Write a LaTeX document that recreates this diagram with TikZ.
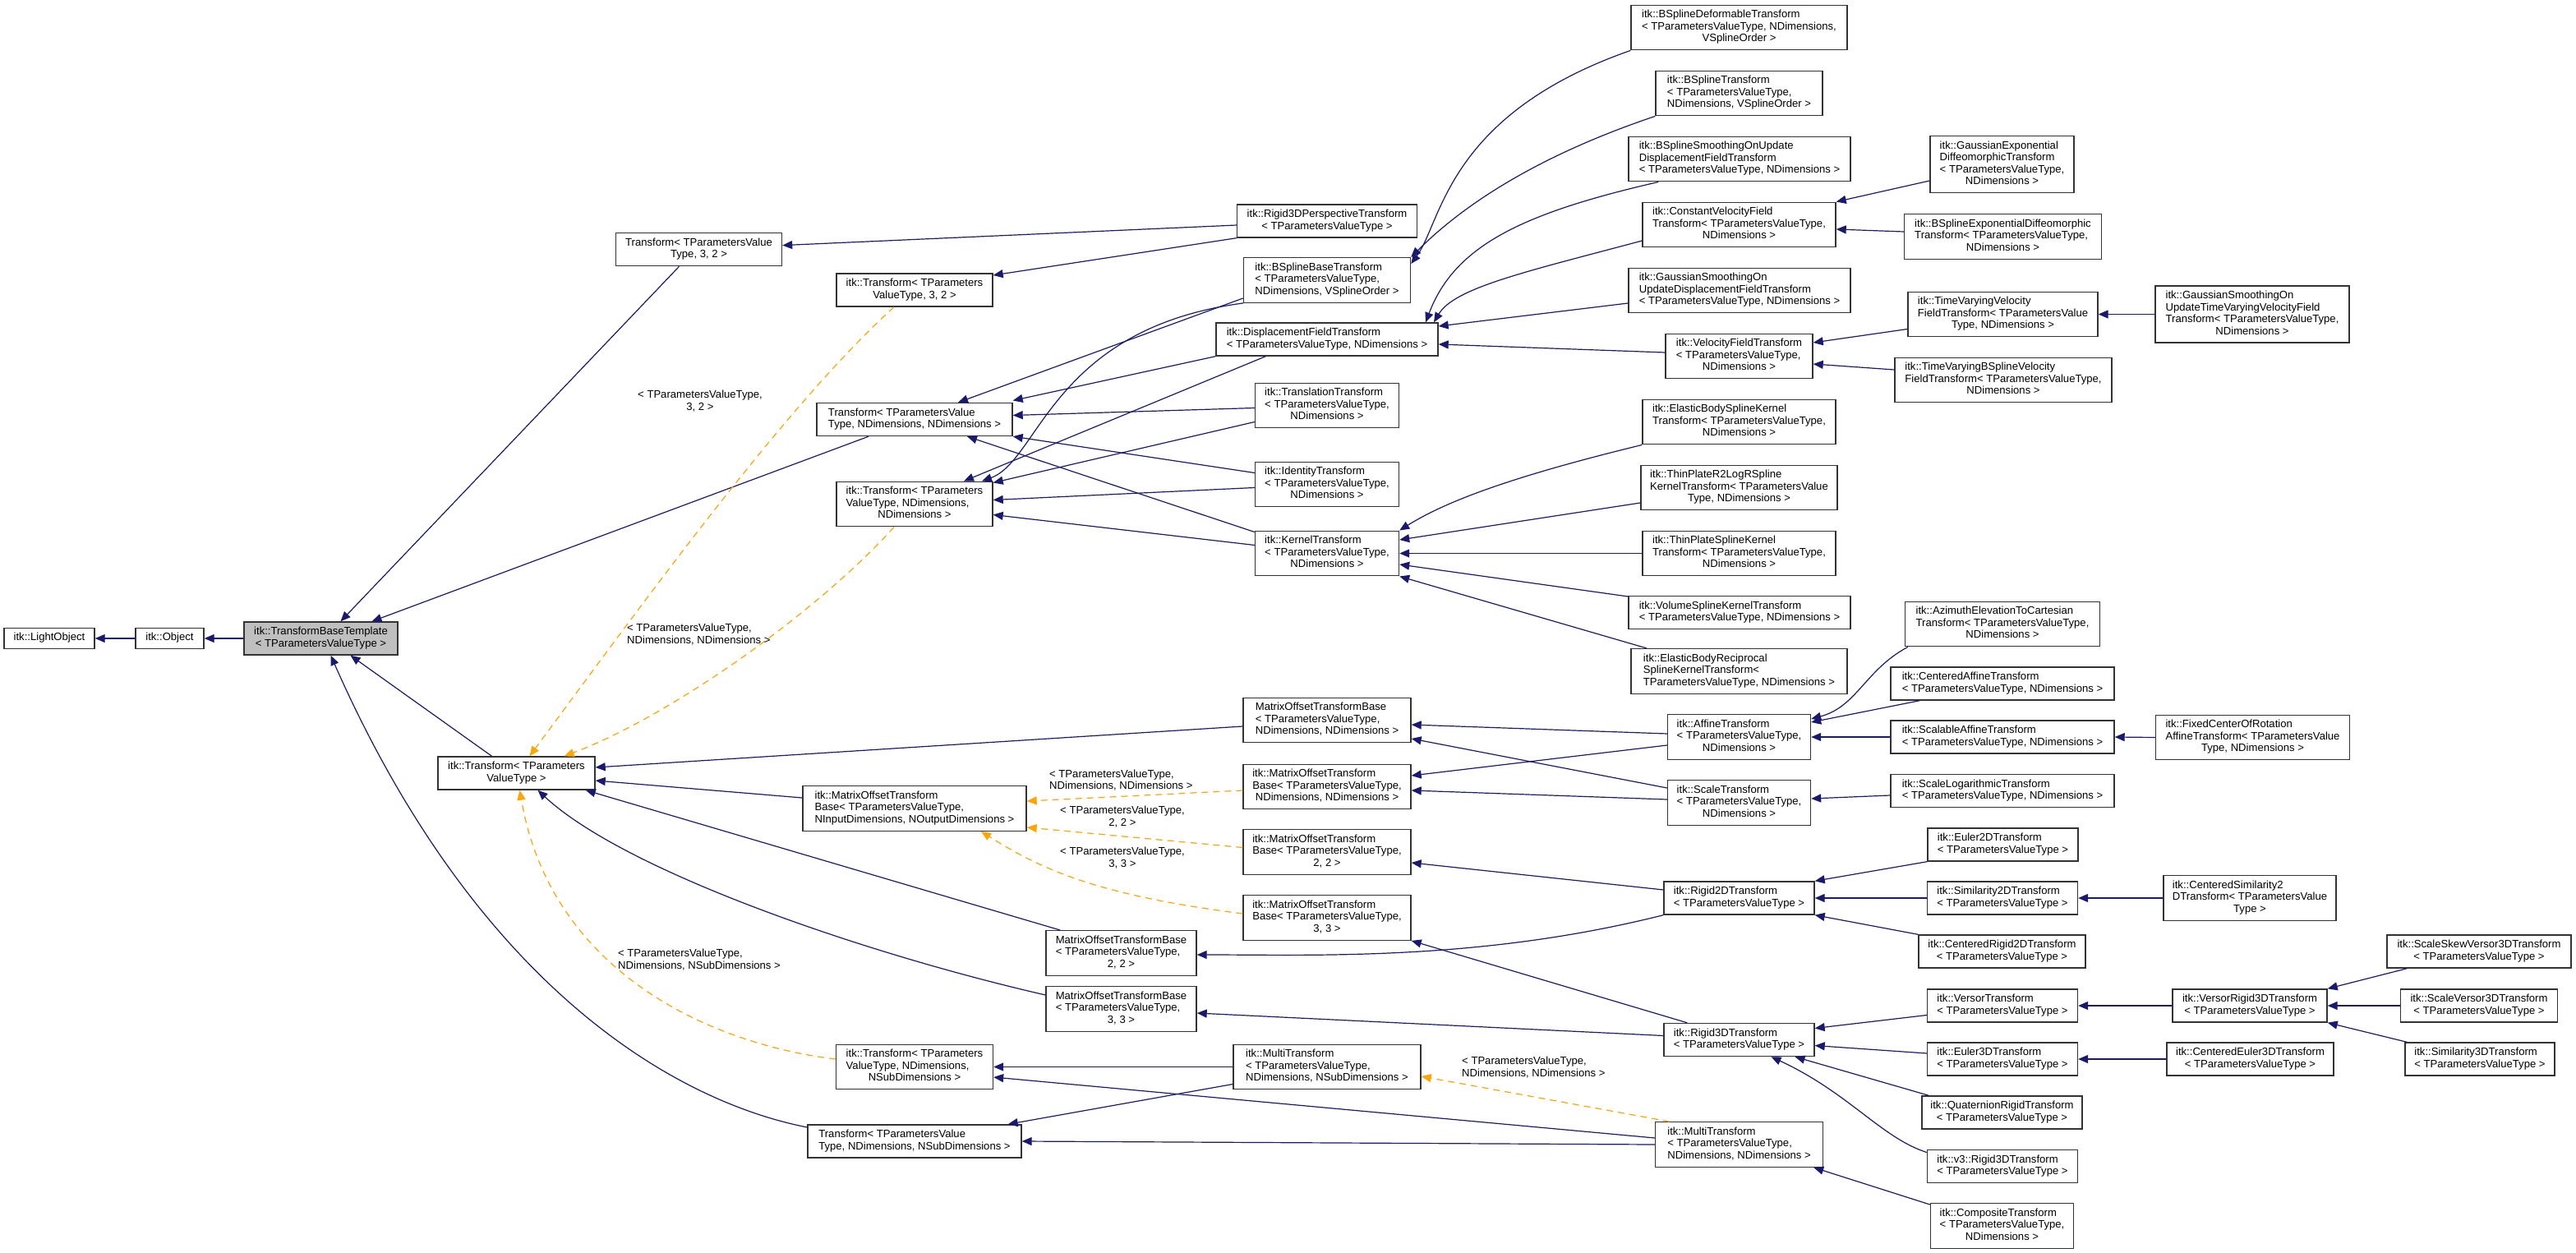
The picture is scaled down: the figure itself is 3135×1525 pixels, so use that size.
\documentclass[tikz,border=0pt]{standalone}
\usepackage{fontspec}
\setmainfont{Liberation Sans}
\usetikzlibrary{arrows.meta,calc}
\definecolor{navyedge}{HTML}{191970}
\definecolor{orangeedge}{HTML}{FFA500}
\newcommand{\clsfont}{\fontsize{13.1pt}{14.5pt}\selectfont}
\newcommand{\clsline}[1]{\begin{tabular}{@{}c@{}}#1\end{tabular}}
\newcommand{\clsbox}[2]{\begin{tabular}{@{}l@{}}#1\\\multicolumn{1}{@{}c@{}}{#2}\end{tabular}}
\begin{document}
\begin{tikzpicture}[x=1pt,y=-1pt,
  cls/.style={draw=black!80,fill=white,line width=1.4pt,inner xsep=0pt,inner ysep=5.5pt,font=\clsfont},
  base/.style={cls,fill=black!25},
  inh/.style={draw=navyedge,line width=1.2pt,-{Triangle[length=12pt,width=10pt]}},
  tmpl/.style={draw=orangeedge,line width=1.2pt,dash pattern=on 8pt off 6pt,-{Triangle[length=12pt,width=10pt]}},
  lbl/.style={font=\clsfont,inner sep=0pt}]
  \path[use as bounding box,fill=white] (0,0) rectangle (3135,1525);

  \node[cls,minimum width=110pt] (lobj) at (60,777) {\clsline{itk::LightObject}};
  \node[cls,minimum width=83pt] (obj) at (206.5,777) {\clsline{itk::Object}};
  \node[base,minimum width=187pt] (tbt) at (390.5,777) {\clsbox{itk::TransformBaseTemplate}{< TParametersValueType >}};
  \node[cls,minimum width=191pt] (tpvt) at (628.5,941) {\clsbox{itk::Transform< TParameters}{ValueType >}};

  \node[cls,minimum width=202pt] (t32) at (850.5,303.6) {\clsbox{Transform< TParametersValue}{Type, 3, 2 >}};
  \node[cls,minimum width=190pt] (it32) at (1113,353) {\clsbox{itk::Transform< TParameters}{ValueType, 3, 2 >}};
  \node[cls,minimum width=238pt] (tnn) at (1113,510.5) {\clsbox{Transform< TParametersValue}{Type, NDimensions, NDimensions >}};
  \node[cls,minimum width=190pt] (itnn) at (1113,613.5) {\clsbox{itk::Transform< TParameters\\ValueType, NDimensions,}{NDimensions >}};
  \node[cls,minimum width=272pt] (imotbin) at (1113,984) {\clsbox{itk::MatrixOffsetTransform\\Base< TParametersValueType,}{NInputDimensions, NOutputDimensions >}};
  \node[cls,minimum width=191pt] (itnsub) at (1113,1298.5) {\clsbox{itk::Transform< TParameters\\ValueType, NDimensions,}{NSubDimensions >}};
  \node[cls,minimum width=260pt] (tnsub) at (1113,1389) {\clsbox{Transform< TParametersValue}{Type, NDimensions, NSubDimensions >}};
  \node[cls,minimum width=183pt] (motb22) at (1364.5,1160) {\clsbox{MatrixOffsetTransformBase\\< TParametersValueType,}{2, 2 >}};
  \node[cls,minimum width=183pt] (motb33) at (1364.5,1228) {\clsbox{MatrixOffsetTransformBase\\< TParametersValueType,}{3, 3 >}};

  \node[cls,minimum width=219pt] (r3dp) at (1615,269) {\clsbox{itk::Rigid3DPerspectiveTransform}{< TParametersValueType >}};
  \node[cls,minimum width=203pt] (bsbase) at (1615,341) {\clsbox{itk::BSplineBaseTransform\\< TParametersValueType,}{NDimensions, VSplineOrder >}};
  \node[cls,minimum width=270pt] (dfield) at (1615,413) {\clsbox{itk::DisplacementFieldTransform}{< TParametersValueType, NDimensions >}};
  \node[cls,minimum width=175pt] (transl) at (1615,493.5) {\clsbox{itk::TranslationTransform\\< TParametersValueType,}{NDimensions >}};
  \node[cls,minimum width=175pt] (ident) at (1615,589.5) {\clsbox{itk::IdentityTransform\\< TParametersValueType,}{NDimensions >}};
  \node[cls,minimum width=175pt] (kernel) at (1615,673.5) {\clsbox{itk::KernelTransform\\< TParametersValueType,}{NDimensions >}};
  \node[cls,minimum width=204pt] (motbnn) at (1615,876.5) {\clsbox{MatrixOffsetTransformBase\\< TParametersValueType,}{NDimensions, NDimensions >}};
  \node[cls,minimum width=204pt] (imotbnn) at (1615,957.5) {\clsbox{itk::MatrixOffsetTransform\\Base< TParametersValueType,}{NDimensions, NDimensions >}};
  \node[cls,minimum width=204pt] (imotb22) at (1615,1037) {\clsbox{itk::MatrixOffsetTransform\\Base< TParametersValueType,}{2, 2 >}};
  \node[cls,minimum width=204pt] (imotb33) at (1615,1117) {\clsbox{itk::MatrixOffsetTransform\\Base< TParametersValueType,}{3, 3 >}};
  \node[cls,minimum width=228pt] (mtnsub) at (1615,1298.5) {\clsbox{itk::MultiTransform\\< TParametersValueType,}{NDimensions, NSubDimensions >}};

  \node[cls,minimum width=263pt] (bsdef) at (2116.5,33.5) {\clsbox{itk::BSplineDeformableTransform\\< TParametersValueType, NDimensions,}{VSplineOrder >}};
  \node[cls,minimum width=203pt] (bspline) at (2116.5,113.5) {\clsbox{itk::BSplineTransform\\< TParametersValueType,}{NDimensions, VSplineOrder >}};
  \node[cls,minimum width=270pt] (bssmooth) at (2117,193.5) {\clsbox{itk::BSplineSmoothingOnUpdate\\DisplacementFieldTransform}{< TParametersValueType, NDimensions >}};
  \node[cls,minimum width=235pt] (cvf) at (2116.5,273.5) {\clsbox{itk::ConstantVelocityField\\Transform< TParametersValueType,}{NDimensions >}};
  \node[cls,minimum width=270pt] (gsdf) at (2117,353.5) {\clsbox{itk::GaussianSmoothingOn\\UpdateDisplacementFieldTransform}{< TParametersValueType, NDimensions >}};
  \node[cls,minimum width=179pt] (vf) at (2116.5,433.5) {\clsbox{itk::VelocityFieldTransform\\< TParametersValueType,}{NDimensions >}};
  \node[cls,minimum width=235pt] (ebsk) at (2116.5,513.5) {\clsbox{itk::ElasticBodySplineKernel\\Transform< TParametersValueType,}{NDimensions >}};
  \node[cls,minimum width=239pt] (tpr2) at (2116.5,593.5) {\clsbox{itk::ThinPlateR2LogRSpline\\KernelTransform< TParametersValue}{Type, NDimensions >}};
  \node[cls,minimum width=235pt] (tpsk) at (2116.5,673.5) {\clsbox{itk::ThinPlateSplineKernel\\Transform< TParametersValueType,}{NDimensions >}};
  \node[cls,minimum width=270pt] (vsk) at (2117,745.5) {\clsbox{itk::VolumeSplineKernelTransform}{< TParametersValueType, NDimensions >}};
  \node[cls,minimum width=263pt] (ebr) at (2116.5,817) {\clsbox{itk::ElasticBodyReciprocal\\SplineKernelTransform<}{TParametersValueType, NDimensions >}};
  \node[cls,minimum width=174pt] (affine) at (2116.5,897) {\clsbox{itk::AffineTransform\\< TParametersValueType,}{NDimensions >}};
  \node[cls,minimum width=174pt] (scale) at (2116.5,977) {\clsbox{itk::ScaleTransform\\< TParametersValueType,}{NDimensions >}};
  \node[cls,minimum width=183pt] (rigid2d) at (2116.5,1093) {\clsbox{itk::Rigid2DTransform}{< TParametersValueType >}};
  \node[cls,minimum width=183pt] (rigid3d) at (2116.5,1265.5) {\clsbox{itk::Rigid3DTransform}{< TParametersValueType >}};
  \node[cls,minimum width=204pt] (mtnn) at (2116.5,1393) {\clsbox{itk::MultiTransform\\< TParametersValueType,}{NDimensions, NDimensions >}};

  \node[cls,minimum width=175pt] (gexp) at (2436.5,200) {\clsbox{itk::GaussianExponential\\DiffeomorphicTransform\\< TParametersValueType,}{NDimensions >}};
  \node[cls,minimum width=240pt] (bsexp) at (2437.5,288) {\clsbox{itk::BSplineExponentialDiffeomorphic\\Transform< TParametersValueType,}{NDimensions >}};
  \node[cls,minimum width=231pt] (tvv) at (2437.5,382.5) {\clsbox{itk::TimeVaryingVelocity\\FieldTransform< TParametersValue}{Type, NDimensions >}};
  \node[cls,minimum width=264pt] (tvbs) at (2438,462.5) {\clsbox{itk::TimeVaryingBSplineVelocity\\FieldTransform< TParametersValueType,}{NDimensions >}};
  \node[cls,minimum width=237pt] (azimuth) at (2437,759.5) {\clsbox{itk::AzimuthElevationToCartesian\\Transform< TParametersValueType,}{NDimensions >}};
  \node[cls,minimum width=272pt] (caffine) at (2437,832) {\clsbox{itk::CenteredAffineTransform}{< TParametersValueType, NDimensions >}};
  \node[cls,minimum width=272pt] (saffine) at (2437,897) {\clsbox{itk::ScalableAffineTransform}{< TParametersValueType, NDimensions >}};
  \node[cls,minimum width=272pt] (slog) at (2437,962.5) {\clsbox{itk::ScaleLogarithmicTransform}{< TParametersValueType, NDimensions >}};
  \node[cls,minimum width=183pt] (euler2d) at (2437.5,1028) {\clsbox{itk::Euler2DTransform}{< TParametersValueType >}};
  \node[cls,minimum width=183pt] (sim2d) at (2437,1093) {\clsbox{itk::Similarity2DTransform}{< TParametersValueType >}};
  \node[cls,minimum width=203pt] (crigid2d) at (2436.5,1158) {\clsbox{itk::CenteredRigid2DTransform}{< TParametersValueType >}};
  \node[cls,minimum width=183pt] (versor) at (2437,1224) {\clsbox{itk::VersorTransform}{< TParametersValueType >}};
  \node[cls,minimum width=183pt] (euler3d) at (2437,1289) {\clsbox{itk::Euler3DTransform}{< TParametersValueType >}};
  \node[cls,minimum width=195pt] (quat) at (2436.5,1354) {\clsbox{itk::QuaternionRigidTransform}{< TParametersValueType >}};
  \node[cls,minimum width=183pt] (v3rigid) at (2437,1419.5) {\clsbox{itk::v3::Rigid3DTransform}{< TParametersValueType >}};
  \node[cls,minimum width=174pt] (composite) at (2436.5,1492) {\clsbox{itk::CompositeTransform\\< TParametersValueType,}{NDimensions >}};

  \node[cls,minimum width=236pt] (gstv) at (2741,382.5) {\clsbox{itk::GaussianSmoothingOn\\UpdateTimeVaryingVelocityField\\Transform< TParametersValueType,}{NDimensions >}};
  \node[cls,minimum width=236pt] (fixedc) at (2741.5,897.5) {\clsbox{itk::FixedCenterOfRotation\\AffineTransform< TParametersValue}{Type, NDimensions >}};
  \node[cls,minimum width=210pt] (csim2d) at (2738,1093) {\clsbox{itk::CenteredSimilarity2\\DTransform< TParametersValue}{Type >}};
  \node[cls,minimum width=188pt] (vrigid3d) at (2738,1224) {\clsbox{itk::VersorRigid3DTransform}{< TParametersValueType >}};
  \node[cls,minimum width=203pt] (ceuler3d) at (2738.5,1289) {\clsbox{itk::CenteredEuler3DTransform}{< TParametersValueType >}};
  \node[cls,minimum width=224pt] (scaleskew) at (3017,1158) {\clsbox{itk::ScaleSkewVersor3DTransform}{< TParametersValueType >}};
  \node[cls,minimum width=191pt] (scalev) at (3017,1224) {\clsbox{itk::ScaleVersor3DTransform}{< TParametersValueType >}};
  \node[cls,minimum width=182pt] (sim3d) at (3018,1289) {\clsbox{itk::Similarity3DTransform}{< TParametersValueType >}};

  \node[lbl,align=center] (l32) at (852,488) {< TParametersValueType,\\3, 2 >};
  \node[lbl,align=left,anchor=west] (lnn) at (763,772) {< TParametersValueType,\\NDimensions, NDimensions >};
  \node[lbl,align=left,anchor=west] (lnsub) at (752,1168) {< TParametersValueType,\\NDimensions, NSubDimensions >};
  \node[lbl,align=left,anchor=west] (lmnn) at (1277,949.5) {< TParametersValueType,\\NDimensions, NDimensions >};
  \node[lbl,align=center] (lm22) at (1366,994) {< TParametersValueType,\\2, 2 >};
  \node[lbl,align=center] (lm33) at (1366,1044) {< TParametersValueType,\\3, 3 >};
  \node[lbl,align=left,anchor=west] (lmt) at (1779,1299) {< TParametersValueType,\\NDimensions, NDimensions >};

  \draw[inh] (obj) -- (lobj);
  \draw[inh] (tbt) -- (obj);
  \draw[inh] ($(t32.south)+(-24,0)$) -- ($(tbt.north)+(24,0)$);
  \draw[inh] ($(tnn.south)+(-56,0)$) -- ($(tbt.north)+(62,0)$);
  \draw[inh] ($(tpvt.north)+(-30,0)$) -- ($(tbt.south)+(36,0)$);
  \draw[inh] ($(tnsub.west)+(0,-17)$) .. controls (820,1340) and (580,1200) .. ($(tbt.south)+(12,0)$);

  \draw[tmpl] ($(it32.south)+(-25,0)$) .. controls (960,490) and (800,710) .. ($(tpvt.north)+(16,0)$);
  \draw[tmpl] ($(itnn.south)+(-25,0)$) .. controls (1000,740) and (820,870) .. ($(tpvt.north east)+(-38,0)$);
  \draw[tmpl] ($(itnsub.west)+(0,-9.5)$) .. controls (860,1270) and (670,1180) .. ($(tpvt.south)+(4,0)$);
  \draw[inh] ($(motbnn.west)+(0,7.5)$) -- ($(tpvt.east)+(0,-7)$);
  \draw[inh] ($(imotbin.west)+(0,-13)$) -- ($(tpvt.east)+(0,9)$);
  \draw[inh] ($(motb22.north west)+(18,0)$) -- ($(tpvt.south east)+(-12,0)$);
  \draw[inh] ($(motb33.west)+(0,-17)$) .. controls (1050,1160) and (760,1060) .. ($(tpvt.south)+(26,0)$);

  \draw[tmpl] ($(imotbnn.west)+(0,4.5)$) -- ($(imotbin.east)+(0,-9)$);
  \draw[tmpl] ($(imotb22.west)+(0,-5.5)$) -- ($(imotbin.east)+(0,23)$);
  \draw[tmpl] ($(imotb33.west)+(0,-5)$) .. controls (1340,1090) and (1270,1060) .. ($(imotbin.south)+(81,0)$);

  \draw[inh] ($(r3dp.west)+(0,5)$) -- ($(t32.east)+(0,-5)$);
  \draw[inh] (r3dp.south west) -- ($(it32.east)+(0,-18)$);
  \draw[inh] ($(bsbase.south west)+(0,-6)$) -- ($(tnn.north)+(53,0)$);
  \draw[inh] (bsbase.south west) .. controls (1280,400) and (1265,560) .. ($(itnn.north)+(82,0)$);
  \draw[inh] (dfield.south west) -- ($(tnn.east)+(0,-23)$);
  \draw[inh] ($(dfield.south west)+(61,0)$) -- ($(itnn.north)+(60,0)$);
  \draw[inh] ($(transl.west)+(0,3)$) -- ($(tnn.east)+(0,-5)$);
  \draw[inh] ($(transl.west)+(0,20)$) -- ($(itnn.east)+(0,-26)$);
  \draw[inh] ($(ident.west)+(0,-14)$) -- (tnn.south east);
  \draw[inh] ($(ident.west)+(0,4)$) -- ($(itnn.east)+(0,-5)$);
  \draw[inh] ($(kernel.west)+(0,-26)$) -- ($(tnn.south)+(64,0)$);
  \draw[inh] ($(kernel.west)+(0,-10)$) -- ($(itnn.east)+(0,13)$);

  \draw[inh] (bsdef.south west) .. controls (1760,140) and (1755,270) .. ($(bsbase.east)+(0,-20)$);
  \draw[inh] (bspline.south west) .. controls (1870,190) and (1780,250) .. (bsbase.north east);
  \draw[inh] ($(bssmooth.south west)+(37,0)$) .. controls (1850,260) and (1770,300) .. ($(dfield.north)+(120,0)$);
  \draw[inh] ($(cvf.west)+(0,19.5)$) .. controls (1860,330) and (1770,350) .. ($(dfield.north)+(130,0)$);
  \draw[inh] ($(gsdf.west)+(0,15.5)$) -- ($(dfield.east)+(0,-16)$);
  \draw[inh] ($(vf.west)+(0,-4.5)$) -- ($(dfield.east)+(0,6)$);
  \draw[inh] ($(gexp.west)+(0,20)$) -- (cvf.north east);
  \draw[inh] ($(bsexp.west)+(0,-6)$) -- ($(cvf.east)+(0,5.5)$);
  \draw[inh] ($(tvv.west)+(0,18)$) -- ($(vf.east)+(0,-16.5)$);
  \draw[inh] ($(tvbs.west)+(0,-12.5)$) -- ($(vf.east)+(0,9.5)$);
  \draw[inh] (gstv.west) -- (tvv.east);

  \draw[inh] (ebsk.south west) .. controls (1840,580) and (1760,610) .. (kernel.north east);
  \draw[inh] ($(tpr2.west)+(0,18.5)$) -- ($(kernel.east)+(0,-16.5)$);
  \draw[inh] (tpsk.west) -- (kernel.east);
  \draw[inh] ($(vsk.west)+(0,-19.5)$) -- ($(kernel.east)+(0,13.5)$);
  \draw[inh] ($(ebr.north west)+(20,0)$) -- (kernel.south east);

  \draw[inh] ($(affine.west)+(0,-4)$) -- ($(motbnn.east)+(0,5.5)$);
  \draw[inh] ($(affine.west)+(0,10)$) -- ($(imotbnn.east)+(0,-13.5)$);
  \draw[inh] ($(scale.west)+(0,-18)$) -- ($(motbnn.east)+(0,22.5)$);
  \draw[inh] ($(scale.west)+(0,-4)$) -- ($(imotbnn.east)+(0,4.5)$);
  \draw[inh] ($(rigid2d.west)+(0,-10)$) -- ($(imotb22.east)+(0,13)$);
  \draw[inh] (rigid2d.south west) .. controls (1800,1170) and (1600,1162) .. ($(motb22.east)+(0,2)$);
  \draw[inh] ($(rigid3d.north west)+(29,0)$) -- (imotb33.south east);
  \draw[inh] ($(rigid3d.west)+(0,-5)$) -- ($(motb33.east)+(0,5)$);

  \draw[inh] ($(azimuth.south west)+(4,0)$) .. controls (2270,815) and (2260,860) .. ($(affine.east)+(0,-22)$);
  \draw[inh] ($(caffine.south west)+(36,0)$) -- ($(affine.east)+(0,-18)$);
  \draw[inh] (saffine.west) -- (affine.east);
  \draw[inh] (fixedc.west) -- (saffine.east);
  \draw[inh] ($(slog.west)+(0,5.5)$) -- ($(scale.east)+(0,-5)$);
  \draw[inh] (euler2d.south west) -- (rigid2d.north east);
  \draw[inh] (sim2d.west) -- (rigid2d.east);
  \draw[inh] (csim2d.west) -- (sim2d.east);
  \draw[inh] (crigid2d.north west) -- (rigid2d.south east);
  \draw[inh] ($(versor.west)+(0,11.5)$) -- ($(rigid3d.east)+(0,-14)$);
  \draw[inh] ($(euler3d.west)+(0,-7)$) -- ($(rigid3d.east)+(0,7)$);
  \draw[inh] ($(quat.north west)+(9,0)$) -- ($(rigid3d.south)+(68,0)$);
  \draw[inh] ($(v3rigid.west)+(0,-17)$) .. controls (2290,1385) and (2250,1330) .. ($(rigid3d.south)+(39,0)$);
  \draw[inh] (vrigid3d.west) -- (versor.east);
  \draw[inh] (ceuler3d.west) -- (euler3d.east);
  \draw[inh] ($(scaleskew.south west)+(25,0)$) -- (vrigid3d.north east);
  \draw[inh] (scalev.west) -- (vrigid3d.east);
  \draw[inh] ($(sim3d.north west)+(3,0)$) -- (vrigid3d.south east);

  \draw[inh] ($(composite.north west)+(0,2)$) -- ($(mtnn.south east)+(-12,0)$);
  \draw[inh] ($(mtnn.west)+(0,-8)$) -- ($(itnsub.east)+(0,12.5)$);
  \draw[inh] (mtnn.west) -- (tnsub.east);
  \draw[tmpl] ($(mtnn.north west)+(18,0)$) -- ($(mtnsub.east)+(0,11.5)$);
  \draw[inh] (mtnsub.west) -- (itnsub.east);
  \draw[inh] ($(mtnsub.west)+(0,21)$) -- ($(tnsub.north east)+(-17,0)$);
\end{tikzpicture}
\end{document}
